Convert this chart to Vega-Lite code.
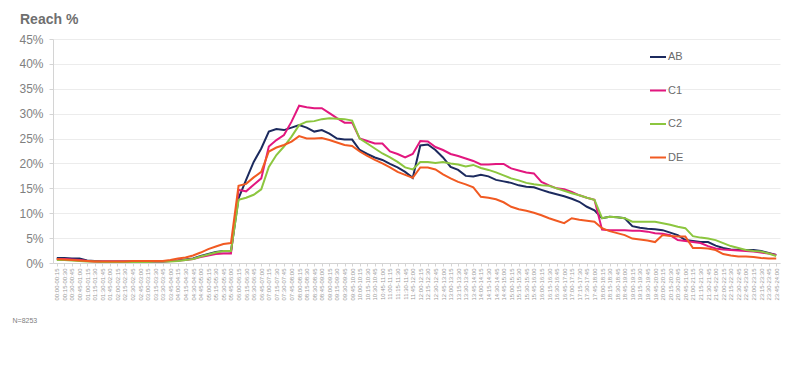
{
 "$schema": "https://vega.github.io/schema/vega-lite/v6.json",
 "width": 727, "height": 224,
 "autosize": {"type": "none"},
 "padding": {"left": 53, "top": 39, "right": 20, "bottom": 122},
 "background": "white",
 "title": {"text": "Reach %", "anchor": "start", "frame": "group", "dx": -33, "offset": 6, "fontSize": 14, "fontWeight": "bold", "color": "#6f6f6f", "font": "Liberation Sans"},
 "config": {"view": {"stroke": null}, "font": "Liberation Sans"},
 "data": {"values": [
  {"t":"00:00-00:15","AB":1.0,"C1":0.8,"C2":0.6,"DE":0.8},
  {"t":"00:15-00:30","AB":1.0,"C1":0.8,"C2":0.6,"DE":0.7},
  {"t":"00:30-00:45","AB":0.9,"C1":0.7,"C2":0.5,"DE":0.6},
  {"t":"00:45-01:00","AB":0.9,"C1":0.6,"C2":0.4,"DE":0.5},
  {"t":"01:00-01:15","AB":0.5,"C1":0.4,"C2":0.3,"DE":0.4},
  {"t":"01:15-01:30","AB":0.4,"C1":0.3,"C2":0.3,"DE":0.3},
  {"t":"01:30-01:45","AB":0.3,"C1":0.3,"C2":0.2,"DE":0.3},
  {"t":"01:45-02:00","AB":0.3,"C1":0.3,"C2":0.2,"DE":0.3},
  {"t":"02:00-02:15","AB":0.3,"C1":0.3,"C2":0.2,"DE":0.3},
  {"t":"02:15-02:30","AB":0.3,"C1":0.3,"C2":0.2,"DE":0.3},
  {"t":"02:30-02:45","AB":0.3,"C1":0.3,"C2":0.2,"DE":0.4},
  {"t":"02:45-03:00","AB":0.3,"C1":0.3,"C2":0.2,"DE":0.4},
  {"t":"03:00-03:15","AB":0.3,"C1":0.3,"C2":0.2,"DE":0.4},
  {"t":"03:15-03:30","AB":0.3,"C1":0.3,"C2":0.3,"DE":0.4},
  {"t":"03:30-03:45","AB":0.3,"C1":0.3,"C2":0.3,"DE":0.4},
  {"t":"03:45-04:00","AB":0.4,"C1":0.4,"C2":0.3,"DE":0.6},
  {"t":"04:00-04:15","AB":0.5,"C1":0.5,"C2":0.4,"DE":0.9},
  {"t":"04:15-04:30","AB":0.7,"C1":0.6,"C2":0.6,"DE":1.1},
  {"t":"04:30-04:45","AB":0.9,"C1":0.8,"C2":0.8,"DE":1.5},
  {"t":"04:45-05:00","AB":1.4,"C1":1.2,"C2":1.3,"DE":2.1},
  {"t":"05:00-05:15","AB":1.8,"C1":1.5,"C2":1.7,"DE":2.8},
  {"t":"05:15-05:30","AB":2.2,"C1":1.8,"C2":2.1,"DE":3.3},
  {"t":"05:30-05:45","AB":2.4,"C1":1.9,"C2":2.4,"DE":3.8},
  {"t":"05:45-06:00","AB":2.3,"C1":1.9,"C2":2.4,"DE":4.0},
  {"t":"06:00-06:15","AB":13.0,"C1":14.7,"C2":12.7,"DE":15.5},
  {"t":"06:15-06:30","AB":16.7,"C1":14.4,"C2":13.1,"DE":15.9},
  {"t":"06:30-06:45","AB":20.3,"C1":15.7,"C2":13.7,"DE":17.2},
  {"t":"06:45-07:00","AB":23.0,"C1":17.0,"C2":14.8,"DE":18.3},
  {"t":"07:00-07:15","AB":26.4,"C1":23.4,"C2":19.3,"DE":22.4},
  {"t":"07:15-07:30","AB":26.9,"C1":24.7,"C2":21.7,"DE":23.2},
  {"t":"07:30-07:45","AB":26.7,"C1":25.7,"C2":23.4,"DE":23.7},
  {"t":"07:45-08:00","AB":27.2,"C1":28.4,"C2":25.4,"DE":24.4},
  {"t":"08:00-08:15","AB":27.7,"C1":31.6,"C2":27.7,"DE":25.5},
  {"t":"08:15-08:30","AB":27.2,"C1":31.3,"C2":28.4,"DE":25.0},
  {"t":"08:30-08:45","AB":26.4,"C1":31.1,"C2":28.5,"DE":25.0},
  {"t":"08:45-09:00","AB":26.7,"C1":31.1,"C2":28.9,"DE":25.1},
  {"t":"09:00-09:15","AB":26.0,"C1":30.1,"C2":29.1,"DE":24.7},
  {"t":"09:15-09:30","AB":25.0,"C1":29.1,"C2":29.0,"DE":24.2},
  {"t":"09:30-09:45","AB":24.8,"C1":28.2,"C2":28.9,"DE":23.7},
  {"t":"09:45-10:00","AB":24.8,"C1":28.2,"C2":28.6,"DE":23.5},
  {"t":"10:00-10:15","AB":22.7,"C1":25.0,"C2":25.0,"DE":22.4},
  {"t":"10:15-10:30","AB":21.9,"C1":24.5,"C2":24.0,"DE":21.5},
  {"t":"10:30-10:45","AB":21.2,"C1":24.0,"C2":23.0,"DE":20.7},
  {"t":"10:45-11:00","AB":20.7,"C1":24.0,"C2":22.0,"DE":20.0},
  {"t":"11:00-11:15","AB":19.9,"C1":22.4,"C2":21.2,"DE":19.2},
  {"t":"11:15-11:30","AB":19.2,"C1":21.9,"C2":20.3,"DE":18.3},
  {"t":"11:30-11:45","AB":18.3,"C1":21.2,"C2":19.2,"DE":17.7},
  {"t":"11:45-12:00","AB":17.1,"C1":21.9,"C2":18.8,"DE":17.1},
  {"t":"12:00-12:15","AB":23.6,"C1":24.5,"C2":20.3,"DE":19.2},
  {"t":"12:15-12:30","AB":23.8,"C1":24.4,"C2":20.3,"DE":19.2},
  {"t":"12:30-12:45","AB":22.7,"C1":23.3,"C2":20.1,"DE":18.8},
  {"t":"12:45-13:00","AB":21.2,"C1":22.7,"C2":20.3,"DE":17.8},
  {"t":"13:00-13:15","AB":19.3,"C1":21.9,"C2":20.0,"DE":17.0},
  {"t":"13:15-13:30","AB":18.7,"C1":21.5,"C2":19.8,"DE":16.3},
  {"t":"13:30-13:45","AB":17.5,"C1":21.0,"C2":19.4,"DE":15.8},
  {"t":"13:45-14:00","AB":17.4,"C1":20.5,"C2":19.7,"DE":15.2},
  {"t":"14:00-14:15","AB":17.7,"C1":19.8,"C2":19.1,"DE":13.3},
  {"t":"14:15-14:30","AB":17.4,"C1":19.8,"C2":18.7,"DE":13.1},
  {"t":"14:30-14:45","AB":16.7,"C1":19.9,"C2":18.2,"DE":12.8},
  {"t":"14:45-15:00","AB":16.4,"C1":19.9,"C2":17.6,"DE":12.2},
  {"t":"15:00-15:15","AB":16.1,"C1":19.0,"C2":17.0,"DE":11.3},
  {"t":"15:15-15:30","AB":15.6,"C1":18.6,"C2":16.6,"DE":10.8},
  {"t":"15:30-15:45","AB":15.3,"C1":18.2,"C2":16.1,"DE":10.5},
  {"t":"15:45-16:00","AB":15.2,"C1":18.0,"C2":15.8,"DE":10.1},
  {"t":"16:00-16:15","AB":14.7,"C1":16.3,"C2":15.6,"DE":9.6},
  {"t":"16:15-16:30","AB":14.2,"C1":15.6,"C2":15.5,"DE":9.0},
  {"t":"16:30-16:45","AB":13.8,"C1":15.0,"C2":15.0,"DE":8.5},
  {"t":"16:45-17:00","AB":13.4,"C1":14.8,"C2":14.5,"DE":8.0},
  {"t":"17:00-17:15","AB":12.9,"C1":14.3,"C2":14.0,"DE":9.0},
  {"t":"17:15-17:30","AB":12.3,"C1":13.6,"C2":13.6,"DE":8.7},
  {"t":"17:30-17:45","AB":11.3,"C1":13.1,"C2":13.1,"DE":8.5},
  {"t":"17:45-18:00","AB":10.6,"C1":12.7,"C2":12.7,"DE":8.3},
  {"t":"18:00-18:15","AB":9.0,"C1":6.7,"C2":9.0,"DE":7.0},
  {"t":"18:15-18:30","AB":9.3,"C1":6.6,"C2":9.3,"DE":6.4},
  {"t":"18:30-18:45","AB":9.2,"C1":6.6,"C2":9.2,"DE":6.0},
  {"t":"18:45-19:00","AB":9.0,"C1":6.6,"C2":9.0,"DE":5.6},
  {"t":"19:00-19:15","AB":7.4,"C1":6.5,"C2":8.3,"DE":4.9},
  {"t":"19:15-19:30","AB":7.1,"C1":6.5,"C2":8.3,"DE":4.7},
  {"t":"19:30-19:45","AB":6.9,"C1":6.3,"C2":8.3,"DE":4.5},
  {"t":"19:45-20:00","AB":6.8,"C1":6.0,"C2":8.3,"DE":4.2},
  {"t":"20:00-20:15","AB":6.6,"C1":5.9,"C2":8.0,"DE":5.6},
  {"t":"20:15-20:30","AB":6.1,"C1":5.6,"C2":7.7,"DE":5.4},
  {"t":"20:30-20:45","AB":5.6,"C1":4.6,"C2":7.3,"DE":5.3},
  {"t":"20:45-21:00","AB":4.6,"C1":4.4,"C2":7.0,"DE":5.3},
  {"t":"21:00-21:15","AB":4.4,"C1":4.2,"C2":5.4,"DE":3.0},
  {"t":"21:15-21:30","AB":4.2,"C1":4.0,"C2":5.1,"DE":3.0},
  {"t":"21:30-21:45","AB":4.2,"C1":3.4,"C2":4.9,"DE":2.9},
  {"t":"21:45-22:00","AB":3.5,"C1":2.9,"C2":4.6,"DE":2.6},
  {"t":"22:00-22:15","AB":3.0,"C1":2.7,"C2":4.0,"DE":1.8},
  {"t":"22:15-22:30","AB":2.7,"C1":2.6,"C2":3.4,"DE":1.5},
  {"t":"22:30-22:45","AB":2.6,"C1":2.5,"C2":3.0,"DE":1.3},
  {"t":"22:45-23:00","AB":2.6,"C1":2.4,"C2":2.6,"DE":1.3},
  {"t":"23:00-23:15","AB":2.6,"C1":2.3,"C2":2.4,"DE":1.2},
  {"t":"23:15-23:30","AB":2.4,"C1":2.1,"C2":2.3,"DE":1.0},
  {"t":"23:30-23:45","AB":2.0,"C1":1.9,"C2":1.9,"DE":0.9},
  {"t":"23:45-24:00","AB":1.6,"C1":1.6,"C2":1.4,"DE":0.9}
 ]},
 "transform": [{"fold": ["AB", "C1", "C2", "DE"], "as": ["s", "v"]}],
 "mark": {"type": "line", "strokeWidth": 2},
 "encoding": {
  "x": {"field": "t", "type": "ordinal", "sort": null,
   "scale": {"type": "point", "padding": 0.5},
   "axis": {"title": "N=8253", "titleAnchor": "start", "titleAlign": "left", "titleBaseline": "middle", "titleX": -41, "titleY": 57, "titleFontSize": 7, "titleFontWeight": "normal", "titleColor": "#808080",
    "labelAngle": -90, "labelFontSize": 6, "labelColor": "#9a9a9a", "labelPadding": 2, "labelOverlap": false,
    "domainColor": "#d4d4d4", "tickColor": "#d4d4d4", "tickSize": 3, "grid": false}},
  "y": {"field": "v", "type": "quantitative", "scale": {"domain": [0, 45]},
   "axis": {"values": [0, 5, 10, 15, 20, 25, 30, 35, 40, 45], "title": null, "labelExpr": "datum.value + '%'",
    "labelFontSize": 12, "labelColor": "#7f7f7f", "labelPadding": 6,
    "gridColor": "#ececec", "domainColor": "#d4d4d4", "tickColor": "#d4d4d4", "tickSize": 4}},
  "color": {"field": "s", "type": "nominal",
   "scale": {"domain": ["AB", "C1", "C2", "DE"], "range": ["#1c2a5e", "#e2177f", "#8cc63f", "#f15a22"]},
   "legend": {"title": null, "orient": "none", "legendX": 596, "legendY": 9, "symbolType": "stroke", "symbolSize": 256, "symbolStrokeWidth": 2,
    "labelFontSize": 11, "labelColor": "#6b6b6b", "labelOffset": 1, "rowPadding": 19.5}}
 }
}
